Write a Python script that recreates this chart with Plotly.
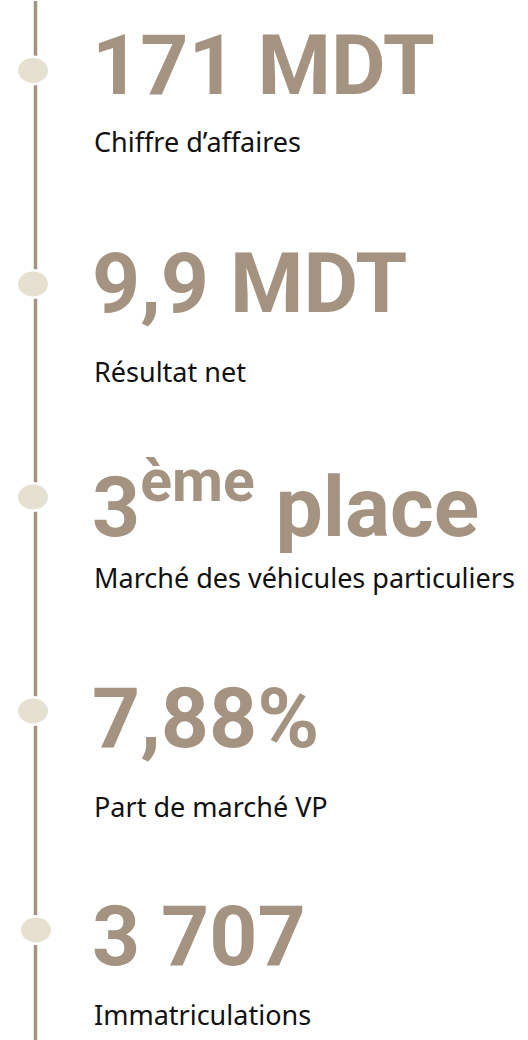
import plotly.graph_objects as go

# ---- data ----
values = ["171 MDT", "9,9 MDT", "3<sup>ème</sup> place", "7,88%", "3 707"]
labels = ["Chiffre d’affaires", "Résultat net", "Marché des véhicules particuliers",
          "Part de marché VP", "Immatriculations"]

# ---- layout constants ----
W, H = 528, 1040
STEP = 215.0          # px between nodes
TOP = 70.5            # px of first node
LINE_X = 35.5
TEXT_X = 89.5
BIG_COLOR = "#a39380"
NODE_COLOR = "#e5e0d0"
# per-node layout nudges (px) to match the reference rhythm
node_nudge = [0, -1.5, -3.5, -4.5, -0.5]
node_dx = [-2.5, -2.5, -2.5, -2.5, 0.5]
big_offset = [-5.5, -1, 4.5, 7.5, 6.5]
label_offset = [71, 87, 80, 95, 84]

n = len(values)
ymin = -TOP / STEP
ymax = (H - TOP) / STEP

fig = go.Figure()

# invisible trace so axes exist
fig.add_trace(go.Scatter(x=[LINE_X] * n, y=list(range(n)), mode="markers",
                         marker=dict(size=1, opacity=0), hoverinfo="skip",
                         showlegend=False))

shapes = [dict(type="line", xref="x", yref="paper", x0=LINE_X, x1=LINE_X,
               y0=0, y1=1 - 1 / H, line=dict(color=BIG_COLOR, width=3.5),
               layer="below")]
annotations = []
for i, (v, lab) in enumerate(zip(values, labels)):
    yc = i + node_nudge[i] / STEP
    rx, ry = 15, 12.5
    cx = LINE_X + node_dx[i]
    shapes.append(dict(type="circle", xref="x", yref="y",
                       x0=cx - rx, x1=cx + rx,
                       y0=yc - ry / STEP, y1=yc + ry / STEP,
                       fillcolor=NODE_COLOR,
                       line=dict(width=5, color="white")))
    shapes.append(dict(type="circle", xref="x", yref="y",
                       x0=cx - rx, x1=cx + rx,
                       y0=yc - ry / STEP, y1=yc + ry / STEP,
                       fillcolor=NODE_COLOR, line=dict(width=0)))
    annotations.append(dict(x=TEXT_X, y=yc + big_offset[i] / STEP,
                            xref="x", yref="y", text=v,
                            showarrow=False, xanchor="left", yanchor="middle",
                            font=dict(family="Roboto", size=84, color=BIG_COLOR,
                                      weight=700)))
    annotations.append(dict(x=TEXT_X + 2, y=yc + label_offset[i] / STEP,
                            xref="x", yref="y", text=lab, showarrow=False,
                            xanchor="left", yanchor="middle",
                            font=dict(family="Noto Sans", size=27,
                                      color="#111111")))

fig.update_layout(
    width=W, height=H, margin=dict(l=0, r=0, t=0, b=0),
    paper_bgcolor="white", plot_bgcolor="white",
    xaxis=dict(range=[0, W], visible=False, fixedrange=True),
    yaxis=dict(range=[ymax, ymin], visible=False, fixedrange=True),
    shapes=shapes, annotations=annotations, showlegend=False,
)

fig.write_html("out.html", config={"displayModeBar": False},
               post_script="document.body.style.margin='0';")
